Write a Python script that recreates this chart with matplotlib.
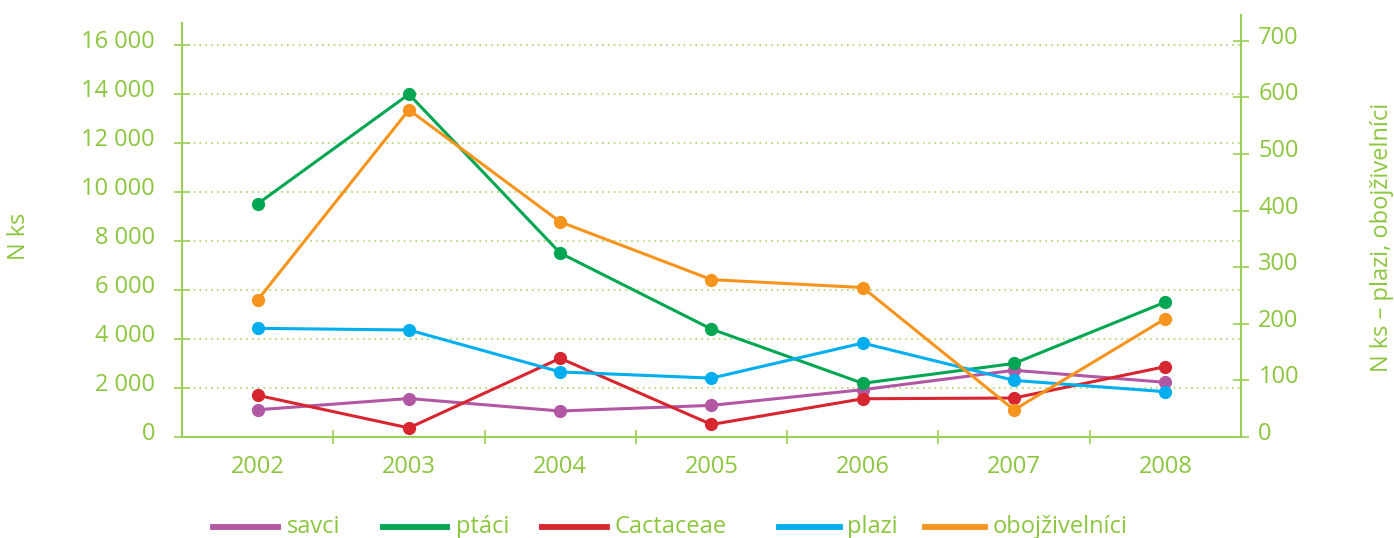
import matplotlib
matplotlib.use("Agg")
import matplotlib.pyplot as plt
from matplotlib.lines import Line2D
from matplotlib.ticker import FixedLocator, FuncFormatter, NullFormatter
from matplotlib.transforms import ScaledTranslation

years = ["2002", "2003", "2004", "2005", "2006", "2007", "2008"]
savci = [1110, 1570, 1060, 1290, 1930, 2720, 2230]
ptaci = [9510, 13980, 7500, 4400, 2190, 3000, 5500]
cactaceae = [1700, 370, 3210, 510, 1560, 1590, 2870]
plazi = [192, 189, 115, 104, 166, 100, 80]
obojzivelnici = [242, 578, 380, 278, 264, 48, 209]

left_ticks = [0, 2000, 4000, 6000, 8000, 10000, 12000, 14000, 16000]
right_ticks = [0, 100, 200, 300, 400, 500, 600, 700]

TXT = "#8CC63F"
SPINE = "#9BCF55"
GRID = "#A9D66A"
C_SAVCI = "#B157A3"
C_PTACI = "#00A651"
C_CACT = "#D7262F"
C_PLAZI = "#00AEEF"
C_OBOJ = "#F7941D"

plt.rcParams['font.family'] = ['Open Sans', 'DejaVu Sans']
FS = 17

fig = plt.figure(figsize=(13.94, 5.38), dpi=100)
W, H = 1394, 538
X0, X1, YB = 182, 1241, 437
ax = fig.add_axes([X0 / W, 1 - YB / H, (X1 - X0) / W, (YB - 23) / H])
ax2 = fig.add_axes([X0 / W, 1 - YB / H, (X1 - X0) / W, (YB - 15) / H], sharex=ax)
ax2.patch.set_visible(False)

x = list(range(len(years)))
lw = 2.2
ms = 8.5
ax.plot(x, savci, color=C_SAVCI, lw=lw, marker='o', ms=ms, zorder=3)
ax.plot(x, ptaci, color=C_PTACI, lw=lw, marker='o', ms=ms, zorder=3)
ax.plot(x, cactaceae, color=C_CACT, lw=lw, marker='o', ms=ms, zorder=3)
ax2.plot(x, plazi, color=C_PLAZI, lw=lw, marker='o', ms=ms, zorder=3)
ax2.plot(x, obojzivelnici, color=C_OBOJ, lw=lw, marker='o', ms=ms, zorder=3)

ax.set_xlim(-0.5, len(years) - 0.5)
ax.set_ylim(0, (YB - 23) / 0.02452)
ax2.set_ylim(0, (YB - 15) / 0.5661)

# gridlines from left axis
for v in left_ticks[1:]:
    ax.axhline(v, color=GRID, lw=1.2, ls=(0, (1, 2.5)), zorder=1)

# x ticks at category boundaries, labels at centres
ax.xaxis.set_major_locator(FixedLocator([i + 0.5 for i in range(len(years) - 1)]))
ax.xaxis.set_major_formatter(NullFormatter())
ax.set_xticks(x, years, minor=True)
ax.tick_params(axis='x', which='major', direction='inout', length=10.5, width=1.2, color=SPINE)
ax.tick_params(axis='x', which='minor', length=0, pad=13, labelsize=FS, labelcolor=TXT)
ax2.tick_params(axis='x', which='both', bottom=False, labelbottom=False)

ax.set_yticks(left_ticks)
ax.yaxis.set_major_formatter(FuncFormatter(lambda v, p: f"{int(v):,}".replace(",", " ")))
ax.tick_params(axis='y', direction='inout', length=11, width=1.2, color=SPINE,
               pad=14, labelsize=FS, labelcolor=TXT)

ax2.yaxis.tick_right()
ax2.set_yticks(right_ticks)
ax2.tick_params(axis='y', direction='inout', length=11, width=1.2, color=SPINE,
                pad=7, labelsize=FS, labelcolor=TXT)

# tick labels sit slightly above their ticks in the reference
shift = ScaledTranslation(0, 6 / 100, fig.dpi_scale_trans)
for lab in ax.get_yticklabels() + ax2.get_yticklabels():
    lab.set_transform(lab.get_transform() + shift)

for a in (ax, ax2):
    a.spines['top'].set_visible(False)
    for s in ('left', 'right', 'bottom'):
        a.spines[s].set_color(SPINE)
        a.spines[s].set_linewidth(1.5)
ax.spines['right'].set_visible(False)
ax2.spines['left'].set_visible(False)
ax2.spines['bottom'].set_visible(False)

fig.text(19 / W, 1 - 236 / H, "N ks", color=TXT, fontsize=FS, rotation=90,
         ha='center', va='center')
fig.text(1382 / W, 1 - 237 / H, "N ks – plazi, obojživelníci", color=TXT, fontsize=FS,
         rotation=90, ha='center', va='center')

# legend, drawn manually
ly = 1 - 527 / H
items = [("savci", C_SAVCI, 213, 278, 287),
         ("ptáci", C_PTACI, 383, 447, 456),
         ("Cactaceae", C_CACT, 542, 607, 615),
         ("plazi", C_PLAZI, 779, 840, 847),
         ("obojživelníci", C_OBOJ, 925, 985, 993)]
for label, col, x0, x1, xt in items:
    fig.add_artist(Line2D([x0 / W, x1 / W], [ly, ly], color=col, lw=4.2,
                          transform=fig.transFigure))
    fig.text(xt / W, ly, label, color=TXT, fontsize=FS, va='center', ha='left')

fig.savefig("out.png", dpi=100)
